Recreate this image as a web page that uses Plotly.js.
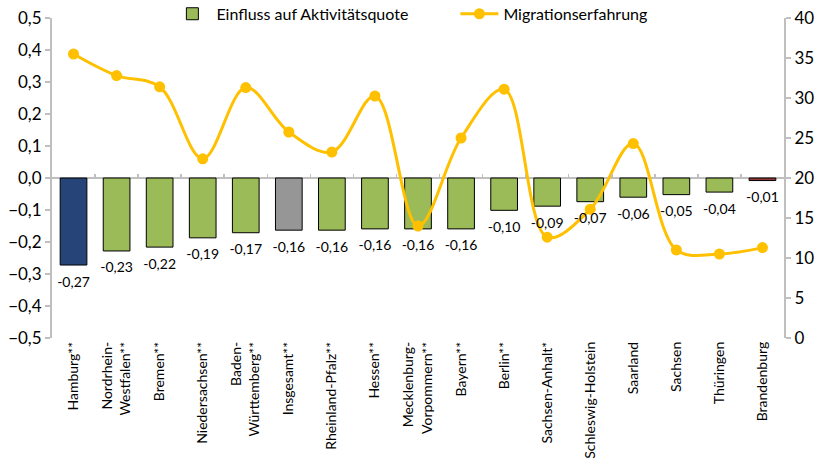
<!DOCTYPE html>
<html>
<head>
<meta charset="utf-8">
<script src="https://cdn.plot.ly/plotly-3.0.1.min.js"></script>
<style>body{margin:0;padding:0;background:#fff}#chart{width:824px;height:465px}</style>
</head>
<body>
<div id="chart"></div>
<script>
var categories = ["Hamburg**", "Nordrhein-<br>Westfalen**", "Bremen**", "Niedersachsen**", "Baden-<br>Württemberg**", "Insgesamt**", "Rheinland-Pfalz**", "Hessen**", "Mecklenburg-<br>Vorpommern**", "Bayern**", "Berlin**", "Sachsen-Anhalt*", "Schleswig-Holstein", "Saarland", "Sachsen", "Thüringen", "Brandenburg"];
var einfluss = [-0.272, -0.228, -0.216, -0.187, -0.171, -0.163, -0.163, -0.159, -0.159, -0.159, -0.101, -0.088, -0.074, -0.060, -0.052, -0.044, -0.008];
var migration = [35.5, 32.8, 31.4, 22.4, 31.3, 25.75, 23.25, 30.25, 14.0, 25.0, 31.1, 12.6, 16.1, 24.3, 11.0, 10.5, 11.3];
var barColors = ["#264478", "#9BBB59", "#9BBB59", "#9BBB59", "#9BBB59", "#969696", "#9BBB59", "#9BBB59", "#9BBB59", "#9BBB59", "#9BBB59", "#9BBB59", "#9BBB59", "#9BBB59", "#9BBB59", "#9BBB59", "#953735"];

var font = "Lato, 'Open Sans', sans-serif";

var bars = {
  type: "bar",
  name: "Einfluss auf Aktivitätsquote",
  x: categories,
  y: einfluss,
  marker: {color: barColors, line: {color: "#000000", width: 1}},
  width: 0.62,
  showlegend: false,
  hoverinfo: "skip"
};
var barLegend = {
  type: "bar",
  name: "Einfluss auf Aktivitätsquote",
  x: [categories[0]],
  y: [null],
  marker: {color: "#9BBB59", line: {color: "#000000", width: 1}},
  showlegend: true,
  hoverinfo: "skip"
};
var barLabels = {
  type: "scatter",
  mode: "markers+text",
  x: categories,
  y: einfluss,
  xaxis: "x2",
  texttemplate: "%{y:.2f}",
  textposition: "bottom center",
  textfont: {family: font, size: 14, color: "#000"},
  marker: {size: 16, color: "rgba(0,0,0,0)"},
  showlegend: false,
  cliponaxis: false,
  hoverinfo: "skip"
};
var line = {
  type: "scatter",
  mode: "lines+markers",
  name: "Migrationserfahrung",
  x: categories,
  y: migration,
  yaxis: "y2",
  line: {color: "#FFC000", width: 3, shape: "spline", smoothing: 1},
  marker: {color: "#FFC000", size: 11},
  hoverinfo: "skip"
};

var layout = {
  width: 824, height: 465,
  margin: {l: 52, r: 40, t: 18, b: 127, autoexpand: false},
  paper_bgcolor: "#fff", plot_bgcolor: "#fff",
  separators: ",.",
  font: {family: font, size: 16, color: "#000"},
  showlegend: true,
  barmode: "overlay",
  legend: {orientation: "h", x: 0.159, xanchor: "left", y: 1.013, yanchor: "middle",
           entrywidth: 234, entrywidthmode: "pixels", itemwidth: 38,
           font: {family: font, size: 16, color: "#000"}, bgcolor: "rgba(0,0,0,0)", traceorder: "normal"},
  xaxis: {
    type: "category",
    range: [-0.5, 16.5],
    tickangle: -90,
    tickfont: {family: font, size: 14, color: "#000"},
    showline: false, showgrid: false, ticks: "",
    automargin: false
  },
  xaxis2: {
    type: "category",
    overlaying: "x",
    anchor: "free", position: 0.5, side: "bottom",
    range: [-0.5, 16.5],
    showticklabels: false, showline: false, showgrid: false, zeroline: false,
    ticks: "inside", tickson: "boundaries", ticklen: 4, tickcolor: "#BFBFBF", tickwidth: 1.5,
    automargin: false
  },
  yaxis: {
    range: [-0.5, 0.5], dtick: 0.1, tickformat: ".1f",
    showgrid: false, zeroline: true, zerolinecolor: "#BFBFBF", zerolinewidth: 2,
    showline: true, linecolor: "#BFBFBF", linewidth: 2,
    ticks: "outside", ticklen: 5, tickcolor: "#BFBFBF", tickwidth: 1.5,
    tickfont: {family: font, size: 17, color: "#000"},
    automargin: false
  },
  yaxis2: {
    range: [0, 40], dtick: 5, overlaying: "y", side: "right",
    showgrid: false, zeroline: false,
    showline: true, linecolor: "#BFBFBF", linewidth: 2,
    ticks: "outside", ticklen: 5, tickcolor: "#BFBFBF", tickwidth: 1.5,
    tickfont: {family: font, size: 17, color: "#000"},
    automargin: false
  }
};

Plotly.newPlot("chart", [bars, barLabels, barLegend, line], layout, {staticPlot: true, displayModeBar: false});
</script>
</body>
</html>
